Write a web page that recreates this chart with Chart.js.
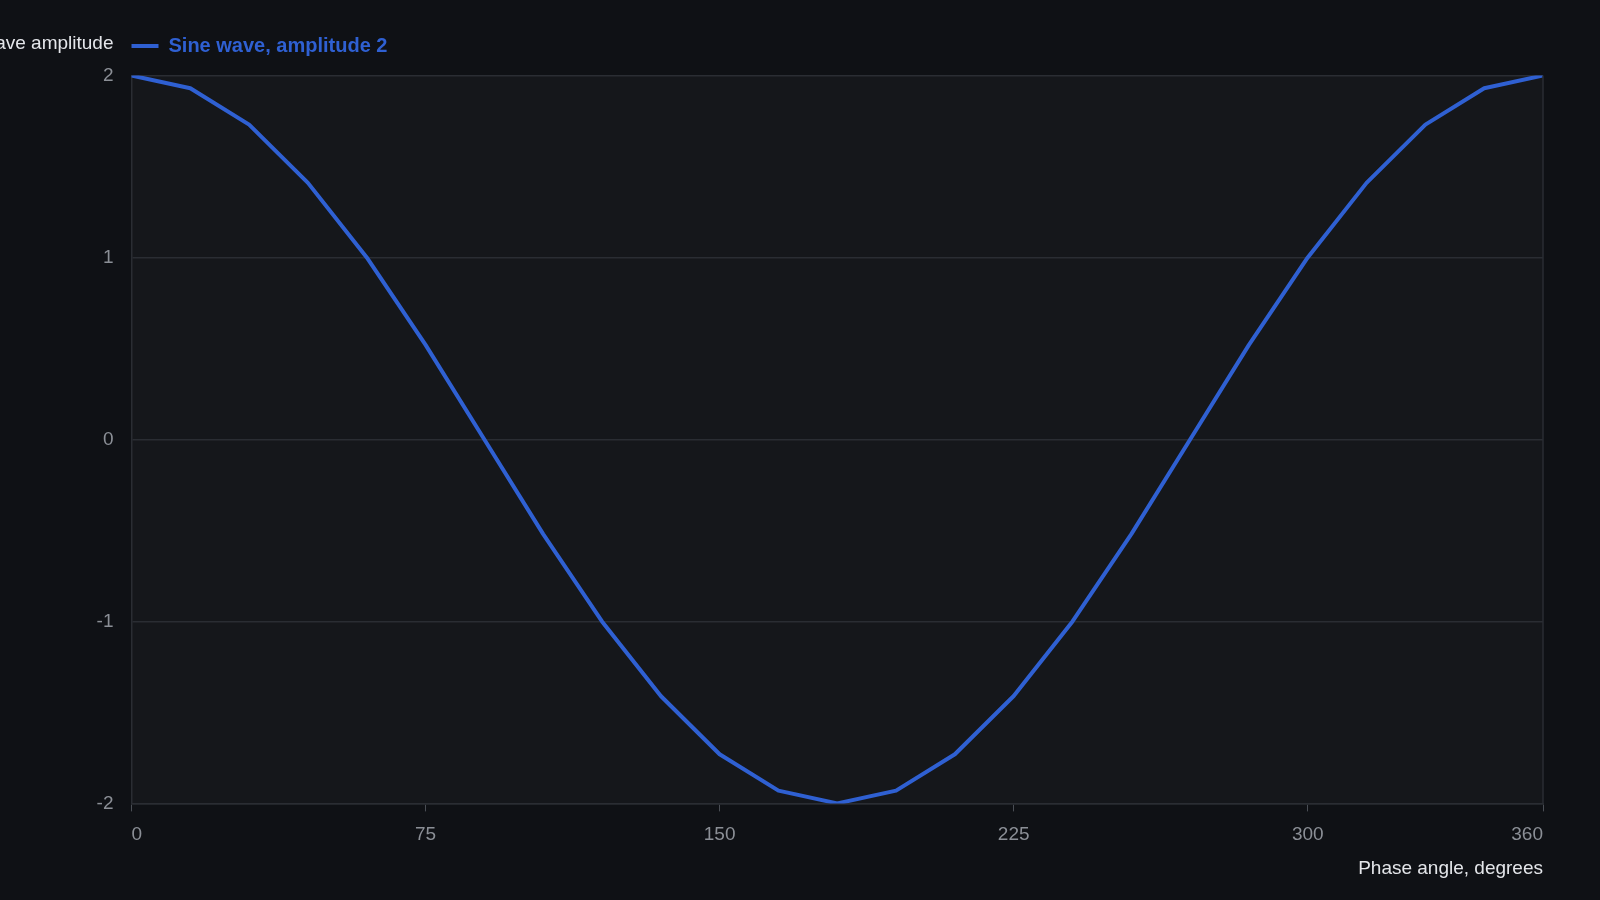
<!DOCTYPE html>
<html>
<head>
<meta charset="utf-8">
<script src="https://cdn.jsdelivr.net/npm/chart.js@4.4.1/dist/chart.umd.min.js"></script>
<style>
  html, body { margin: 0; padding: 0; background: #0f1115; }
  #wrap { width: 1600px; height: 900px; position: relative; }
</style>
</head>
<body>
<div id="wrap"><canvas id="sine"></canvas></div>
<script>
// data
const phaseDegrees = [0, 15, 30, 45, 60, 75, 90, 105, 120, 135, 150, 165, 180,
  195, 210, 225, 240, 255, 270, 285, 300, 315, 330, 345, 360]
const amplitudeValues = [2, 1.93, 1.73, 1.41, 1, 0.52, 0, -0.52, -1, -1.41, -1.73, -1.93, -2,
  -1.93, -1.73, -1.41, -1, -0.52, 0, 0.52, 1, 1.41, 1.73, 1.93, 2]
const xTickStep = 75
const yTickStep = 1
const seriesLabel = 'Sine wave, amplitude 2'
const yTitle = 'Sine wave amplitude'
const xTitle = 'Phase angle, degrees'

const lineBlue = '#2f60d2'
const gridColour = '#2a2d33'
const tickColour = '#8b8f96'
const titleColour = '#e4e6ea'

// plot panel background, right frame edge and horizontal y title
const panelPlugin = {
  id: 'panel',
  afterLayout(chart) {
    const { legend, chartArea } = chart
    if (legend) {
      // legend starts at the plot's left edge and sits a bit above it
      legend.left += chartArea.left - 10 - legend.left
      legend.top -= 9.5
      legend.bottom -= 9.5
    }
  },
  beforeDraw(chart) {
    const { ctx, chartArea } = chart
    ctx.save()
    ctx.fillStyle = '#15171b'
    ctx.fillRect(chartArea.left, chartArea.top, chartArea.right - chartArea.left, chartArea.bottom - chartArea.top)
    ctx.restore()
  },
  afterDraw(chart) {
    const { ctx, chartArea } = chart
    ctx.save()
    ctx.strokeStyle = gridColour
    ctx.lineWidth = 1.5
    ctx.beginPath()
    ctx.moveTo(chartArea.right, chartArea.top)
    ctx.lineTo(chartArea.right, chartArea.bottom)
    ctx.stroke()
    ctx.fillStyle = titleColour
    ctx.font = '19px "Liberation Sans", Arial, sans-serif'
    ctx.textAlign = 'right'
    ctx.textBaseline = 'middle'
    ctx.fillText(yTitle, chartArea.left - 18, 44)
    ctx.restore()
  },
}

Chart.defaults.font.family = '"Liberation Sans", Arial, sans-serif'

new Chart(document.getElementById('sine'), {
  type: 'line',
  data: {
    datasets: [{
      label: seriesLabel,
      data: phaseDegrees.map((x, i) => ({ x, y: amplitudeValues[i] })),
      borderColor: lineBlue,
      backgroundColor: lineBlue,
      borderWidth: 4,
      borderJoinStyle: 'round',
      borderCapStyle: 'round',
      pointRadius: 0,
      tension: 0,
      pointStyle: 'line',
    }],
  },
  options: {
    responsive: true,
    maintainAspectRatio: false,
    animation: false,
    layout: {
      padding: { top: 35.5, right: 57, bottom: 20, left: 0 },
    },
    plugins: {
      legend: {
        position: 'top',
        align: 'start',
        labels: {
          usePointStyle: true,
          pointStyleWidth: 27,
          color: lineBlue,
          font: { size: 20, weight: 'bold' },
          padding: 10,
        },
      },
      tooltip: { enabled: false },
    },
    scales: {
      x: {
        type: 'linear',
        min: 0,
        max: 360,
        grid: {
          drawOnChartArea: false,
          drawTicks: true,
          tickLength: 8,
          color: '#4a4e55',
        },
        border: { color: gridColour, width: 1.5 },
        ticks: {
          stepSize: xTickStep,
          align: 'inner',
          color: tickColour,
          font: { size: 19 },
          padding: 12,
          maxRotation: 0,
        },
        title: {
          display: true,
          text: xTitle,
          align: 'end',
          color: titleColour,
          font: { size: 19 },
          padding: { top: -1, bottom: 0 },
        },
      },
      y: {
        min: -2,
        max: 2,
        afterFit(scale) { scale.width = 131.5 },
        grid: {
          color: gridColour,
          lineWidth: 1.5,
          drawTicks: false,
        },
        border: { color: gridColour, width: 1.5 },
        ticks: {
          stepSize: yTickStep,
          color: tickColour,
          font: { size: 19 },
          padding: 18,
        },
      },
    },
  },
  plugins: [panelPlugin],
})
</script>
</body>
</html>
